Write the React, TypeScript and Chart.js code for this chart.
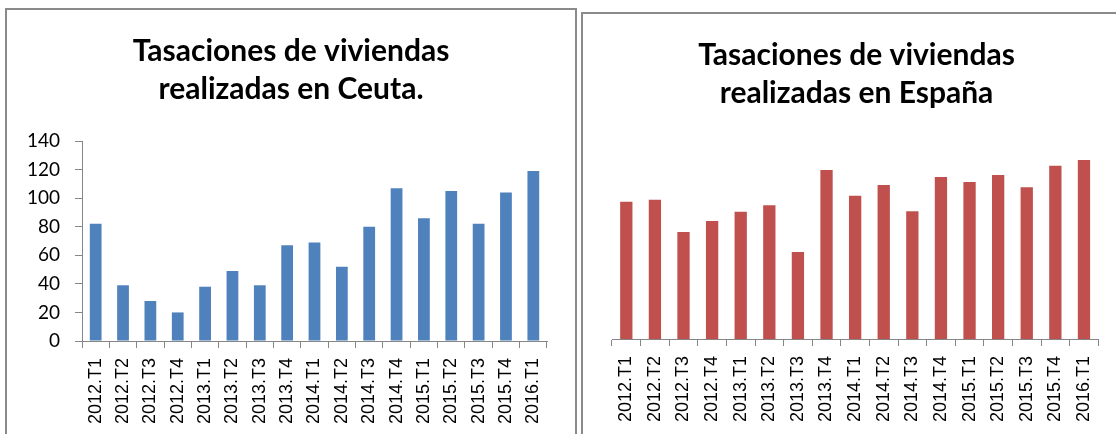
import React, { useEffect, useRef } from "react";
import { Chart, registerables } from "chart.js";

Chart.register(...registerables);

const categories = [
  "2012.T1", "2012.T2", "2012.T3", "2012.T4",
  "2013.T1", "2013.T2", "2013.T3", "2013.T4",
  "2014.T1", "2014.T2", "2014.T3", "2014.T4",
  "2015.T1", "2015.T2", "2015.T3", "2015.T4",
  "2016.T1",
];

const ceutaValues = [82, 39, 28, 20, 38, 49, 39, 67, 69, 52, 80, 107, 86, 105, 82, 104, 119];
const espanaValues = [97, 98.5, 75.7, 83.4, 90, 94.5, 61.5, 119.5, 101.3, 108.9, 90.3, 114.5, 111, 116, 107.3, 122.5, 126.6];

const yMin = 0;
const yMax = 140;
const yStep = 20;

const ceutaTitle = ["Tasaciones de viviendas", "realizadas en Ceuta."];
const espanaTitle = ["Tasaciones de viviendas", "realizadas en España"];

const AXIS = "#868686";
const BORDER = "#8a8a8a";

type Opts = {
  title: string[];
  values: number[];
  color: string;
  showY: boolean;
  padLeft: number;
  padRight: number;
  yWidth: number;
  rightSpacer: number;
  xHeight: number;
  titlePadTop: number;
  titlePadBottom: number;
};

function makeConfig(o: Opts): any {
  const scales: any = {
    x: {
      offset: true,
      border: { display: true, color: AXIS, width: 1 },
      grid: {
        display: true,
        offset: true,
        drawOnChartArea: false,
        drawTicks: true,
        tickLength: 7,
        color: AXIS,
      },
      ticks: {
        autoSkip: false,
        minRotation: 90,
        maxRotation: 90,
        padding: 10,
        color: "#000",
        font: { family: "Liberation Sans", size: 18 },
      },
      afterFit: (s: any) => {
        s.height = o.xHeight;
      },
    },
    y: {
      display: o.showY,
      min: yMin,
      max: yMax,
      border: { display: true, color: AXIS, width: 1 },
      grid: {
        display: true,
        drawOnChartArea: false,
        drawTicks: true,
        tickLength: 7,
        color: AXIS,
      },
      ticks: {
        stepSize: yStep,
        padding: 15,
        color: "#000",
        font: { family: "Lato", size: 19 },
      },
      afterFit: (s: any) => {
        s.width = o.yWidth;
      },
    },
  };
  if (o.rightSpacer > 0) {
    scales.spacer = {
      type: "linear",
      position: "right",
      display: true,
      grid: { display: false, drawTicks: false },
      border: { display: false },
      ticks: { display: false },
      afterFit: (s: any) => {
        s.width = o.rightSpacer;
      },
    };
  }
  return {
    type: "bar",
    data: {
      labels: categories,
      datasets: [
        {
          data: o.values,
          backgroundColor: o.color,
          borderWidth: 0,
          categoryPercentage: 1,
          barPercentage: 0.43,
        },
      ],
    },
    options: {
      responsive: false,
      animation: false,
      devicePixelRatio: 1,
      layout: { padding: { left: o.padLeft, right: o.padRight, top: 0, bottom: 0 } },
      plugins: {
        legend: { display: false },
        tooltip: { enabled: false },
        title: {
          display: true,
          text: o.title,
          color: "#000",
          font: { family: "Lato", weight: "bold", size: 30, lineHeight: 38 / 30 },
          padding: { top: o.titlePadTop, bottom: o.titlePadBottom },
        },
      },
      scales,
    },
  };
}

function BarChart({ opts, width, height }: { opts: Opts; width: number; height: number }) {
  const ref = useRef<HTMLCanvasElement | null>(null);
  useEffect(() => {
    if (!ref.current) return;
    const chart = new Chart(ref.current, makeConfig(opts));
    return () => chart.destroy();
  }, []);
  return <canvas ref={ref} width={width} height={height} style={{ display: "block", width, height }} />;
}

export default function App() {
  return (
    <div>
      <div
        style={{
          position: "absolute",
          left: 5,
          top: 8,
          width: 568,
          height: 424,
          borderTop: `2px solid ${BORDER}`,
          borderLeft: `2px solid ${BORDER}`,
          borderRight: `2px solid ${BORDER}`,
          background: "#fff",
        }}
      >
        <BarChart
          width={568}
          height={424}
          opts={{
            title: ceutaTitle,
            values: ceutaValues,
            color: "#4F81BD",
            showY: true,
            padLeft: 14,
            padRight: 14,
            yWidth: 61,
            rightSpacer: 14,
            xHeight: 93,
            titlePadTop: 22,
            titlePadBottom: 33,
          }}
        />
      </div>
      <div
        style={{
          position: "absolute",
          left: 581,
          top: 12,
          width: 533,
          height: 420,
          borderTop: `2px solid ${BORDER}`,
          borderLeft: `2px solid ${BORDER}`,
          background: "#fff",
        }}
      >
        <BarChart
          width={533}
          height={420}
          opts={{
            title: espanaTitle,
            values: espanaValues,
            color: "#C0504D",
            showY: false,
            padLeft: 29,
            padRight: 15,
            yWidth: 0,
            rightSpacer: 0,
            xHeight: 95,
            titlePadTop: 22,
            titlePadBottom: 29,
          }}
        />
      </div>
    </div>
  );
}
